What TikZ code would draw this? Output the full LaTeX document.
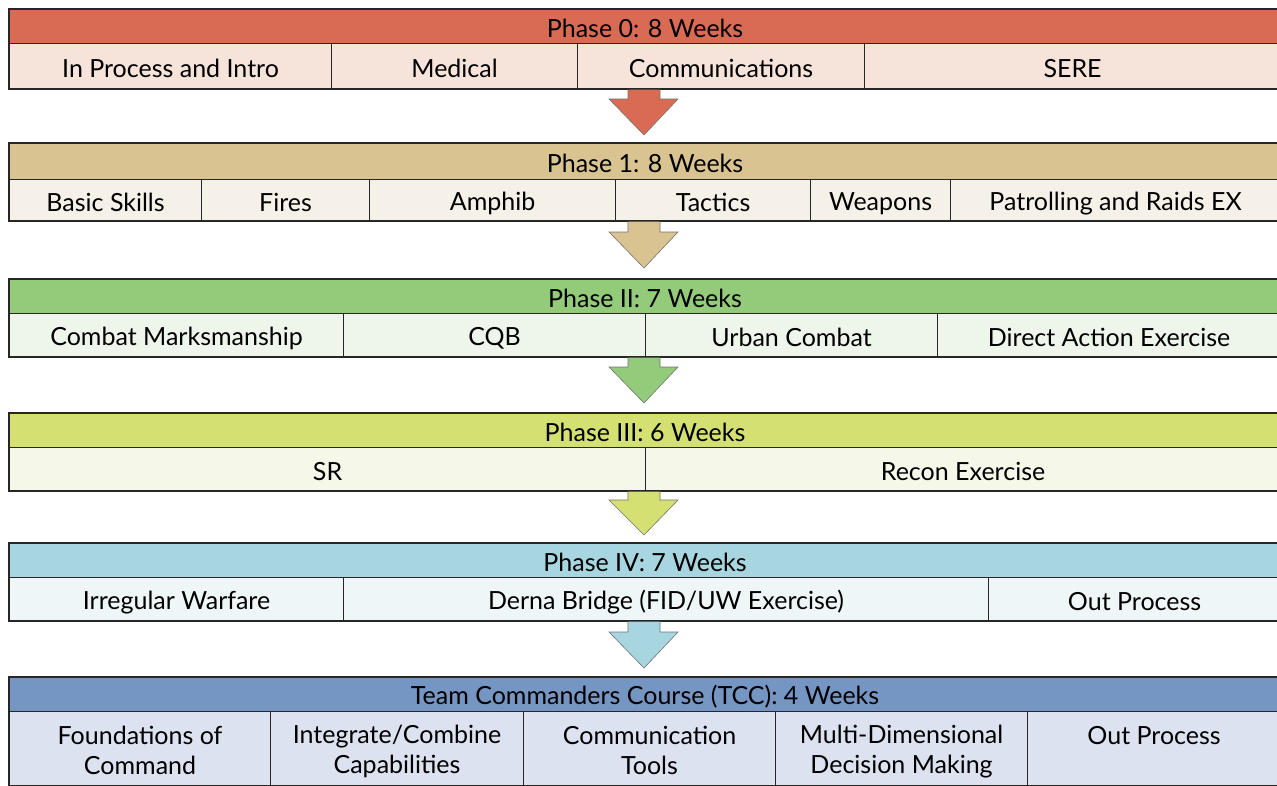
\documentclass[tikz,border=0pt]{standalone}
\usepackage{fontspec}
\setmainfont{Lato}
\definecolor{hA}{HTML}{D96A53}\definecolor{rA}{HTML}{F6E3DA}
\definecolor{hB}{HTML}{D8C391}\definecolor{rB}{HTML}{F5F0E8}
\definecolor{hC}{HTML}{94CB7A}\definecolor{rC}{HTML}{EEF5EA}
\definecolor{hD}{HTML}{D4E071}\definecolor{rD}{HTML}{F5F7E8}
\definecolor{hE}{HTML}{A7D5E0}\definecolor{rE}{HTML}{EEF6F8}
\definecolor{hF}{HTML}{7595C3}\definecolor{rF}{HTML}{DCE2EF}
\definecolor{lineC}{HTML}{262626}
\newcommand{\mystrut}{\rule[-3pt]{0pt}{27pt}}
\newcommand{\cellat}[7]{% name, x1, x2, y1, y2, fill, text
  \node[cellbox, fill=#6, minimum width={#3-#2}, minimum height={#5-#4}, anchor=north west] (#1) at (#2,#4) {\mystrut#7};}
\newcommand{\downarr}[4]{% color, ytop, yhead, ytip
  \draw[arrowshape, fill=#1] (628,#2) -- (628,#3) -- (609,#3) -- (644,#4) -- (678,#3) -- (660,#3) -- (660,#2);}
\tikzset{
  cellbox/.style={draw=lineC, line width=1.1pt, inner sep=0pt, align=center,
    font=\fontsize{25}{30}\selectfont, text=black},
  arrowshape/.style={draw=black!55, line width=0.6pt, line join=miter},
}
\begin{document}
\begin{tikzpicture}[x=1pt,y=-1pt]
\useasboundingbox (0,0) rectangle (1277,785);
\fill[white] (0,0) rectangle (1277,785);
% Phase 0
\cellat{h0}{9}{1280}{9}{43}{hA}{Phase 0: 8 Weeks}
\cellat{a1}{9}{331}{43}{89}{rA}{In Process and Intro}
\cellat{a2}{331}{577}{43}{89}{rA}{Medical}
\cellat{a3}{577}{864}{43}{89}{rA}{Communications}
\cellat{a4}{864}{1280}{43}{89}{rA}{SERE}
\draw[lineC, line width=2pt] (1285,9) -| (9,89) -- (1285,89);
\downarr{hA}{89.5}{99}{135}
% Phase 1
\cellat{h1}{9}{1280}{143}{179}{hB}{Phase 1: 8 Weeks}
\cellat{b1}{9}{201}{179}{221}{rB}{Basic Skills}
\cellat{b2}{201}{369}{179}{221}{rB}{Fires}
\cellat{b3}{369}{615}{179}{221}{rB}{Amphib}
\cellat{b4}{615}{810}{179}{221}{rB}{Tactics}
\cellat{b5}{810}{950}{179}{221}{rB}{Weapons}
\cellat{b6}{950}{1280}{179}{221}{rB}{Patrolling and Raids EX}
\draw[lineC, line width=2pt] (1285,143) -| (9,221) -- (1285,221);
\downarr{hB}{221.5}{232}{268}
% Phase 2
\cellat{h2}{9}{1280}{279}{313}{hC}{Phase II: 7 Weeks}
\cellat{c1}{9}{343}{313}{357}{rC}{Combat Marksmanship}
\cellat{c2}{343}{645}{313}{357}{rC}{CQB}
\cellat{c3}{645}{937}{313}{357}{rC}{Urban Combat}
\cellat{c4}{937}{1280}{313}{357}{rC}{Direct Action Exercise}
\draw[lineC, line width=2pt] (1285,279) -| (9,357) -- (1285,357);
\downarr{hC}{357.5}{367}{403}
% Phase 3
\cellat{h3}{9}{1280}{413}{447}{hD}{Phase III: 6 Weeks}
\cellat{d1}{9}{645}{447}{491}{rD}{SR}
\cellat{d2}{645}{1280}{447}{491}{rD}{Recon Exercise}
\draw[lineC, line width=2pt] (1285,413) -| (9,491) -- (1285,491);
\downarr{hD}{491.5}{500}{535}
% Phase 4
\cellat{h4}{9}{1280}{543}{577}{hE}{Phase IV: 7 Weeks}
\cellat{e1}{9}{343}{577}{621}{rE}{Irregular Warfare}
\cellat{e2}{343}{988}{577}{621}{rE}{Derna Bridge (FID/UW Exercise)}
\cellat{e3}{988}{1280}{577}{621}{rE}{Out Process}
\draw[lineC, line width=2pt] (1285,543) -| (9,621) -- (1285,621);
\downarr{hE}{621.5}{632}{668}
% TCC
\cellat{h5}{9}{1280}{677}{711}{hF}{Team Commanders Course (TCC): 4 Weeks}
\cellat{f1}{9}{270}{711}{785}{rF}{Foundations of\\\mystrut Command}
\cellat{f2}{270}{523}{711}{785}{rF}{Integrate/Combine\\\mystrut Capabilities}
\cellat{f3}{523}{775}{711}{785}{rF}{Communication\\\mystrut Tools}
\cellat{f4}{775}{1027}{711}{785}{rF}{Multi-Dimensional\\\mystrut Decision Making}
\cellat{f5}{1027}{1280}{711}{785}{rF}{Out Process\\\mystrut}
\draw[lineC, line width=2pt] (1285,677) -| (9,790);
\end{tikzpicture}
\end{document}
